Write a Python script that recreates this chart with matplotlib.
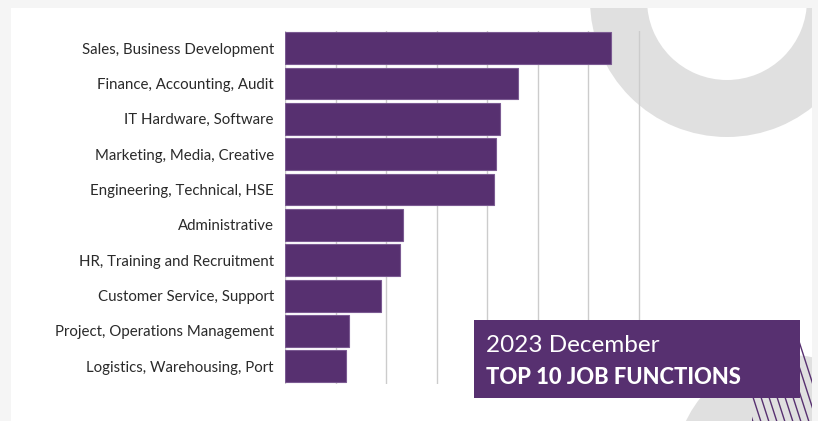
import matplotlib
matplotlib.use("Agg")
import matplotlib.pyplot as plt
from matplotlib.patches import Circle, Rectangle, Wedge
import numpy as np

plt.rcParams['font.family'] = ['Lato', 'DejaVu Sans']

categories = ["Sales, Business Development", "Finance, Accounting, Audit",
              "IT Hardware, Software", "Marketing, Media, Creative",
              "Engineering, Technical, HSE", "Administrative",
              "HR, Training and Recruitment", "Customer Service, Support",
              "Project, Operations Management", "Logistics, Warehousing, Port"]
values = [646, 461, 426, 418, 414, 234, 228, 190, 127, 121]
title_line1 = "2023 December"
title_line2 = "TOP 10 JOB FUNCTIONS"

PURPLE = "#573070"
W, H = 818, 421
fig = plt.figure(figsize=(W / 100, H / 100), dpi=100)
fig.patch.set_facecolor("#f5f5f5")

def px_axes(zorder):
    ax = fig.add_axes([0, 0, 1, 1], zorder=zorder)
    ax.set_xlim(0, W)
    ax.set_ylim(H, 0)
    ax.axis("off")
    ax.patch.set_alpha(0)
    return ax

# background card + ring
bg = px_axes(0)
bg.add_patch(Rectangle((11, 8), 801, 420, facecolor="white", edgecolor="none"))
ring = Wedge((727, 0), 137, 0, 360, width=57, facecolor="#e0e0e0", edgecolor="none")
bg.add_patch(ring)
ring.set_clip_path(Rectangle((11, 8), 801, 420, transform=bg.transData))

# bar axes
x0, y0, x1, y1 = 285, 30.5, 285 + 7.2 * 50.5, 384.0
ax = fig.add_axes([x0 / W, 1 - y1 / H, (x1 - x0) / W, (y1 - y0) / H], zorder=1)
ax.patch.set_alpha(0)
ypos = np.arange(len(categories))
ax.barh(ypos, values, height=0.9, color=PURPLE, edgecolor="#7b5a92", linewidth=0.8, zorder=3)
ax.set_yticks(ypos)
ax.set_yticklabels(categories, fontsize=10.8, color="#2a2a2a")
ax.set_ylim(len(categories) - 0.5, -0.5)
ax.set_xlim(0, 720)
ax.set_xticks(np.arange(0, 701, 100))
ax.tick_params(axis="x", length=0, labelbottom=False)
ax.tick_params(axis="y", length=0, pad=8)
ax.grid(axis="x", color="#cccccc", linewidth=1, zorder=0)
for s in ax.spines.values():
    s.set_visible(False)

# overlay
ov = px_axes(2)
card_clip = Rectangle((11, 8), 801, 420, transform=ov.transData)
c2 = Circle((790, 470), 115, facecolor="#e0e0e0", edgecolor="none")
ov.add_patch(c2)
c2.set_clip_path(card_clip)
clip_stripes = Rectangle((752, 332), 60, 100, transform=ov.transData)
for i in range(14):
    xs = 692 + i * 8
    ln, = ov.plot([xs, xs + 30], [332, 425], color=PURPLE, lw=1.0, solid_capstyle="butt")
    ln.set_clip_path(clip_stripes)
ov.add_patch(Rectangle((474, 320), 326, 78, facecolor=PURPLE, edgecolor="none"))
ov.text(486, 346, title_line1, color="white", fontsize=17.5, fontweight="normal",
        va="center", ha="left")
ov.text(486, 378, title_line2, color="white", fontsize=15.8, fontweight="black",
        va="center", ha="left")

fig.savefig("out.png", dpi=100, facecolor=fig.get_facecolor())
